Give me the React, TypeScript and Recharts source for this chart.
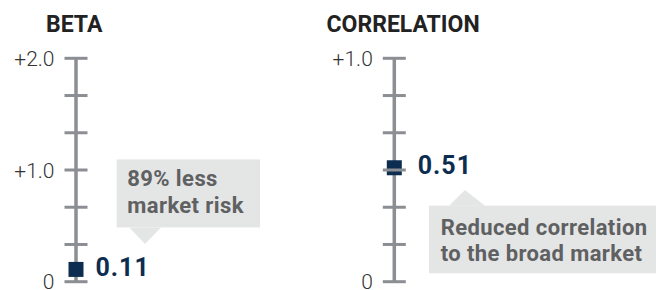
import React from 'react';
import { ScatterChart, Scatter, XAxis, YAxis } from 'recharts';

const betaTicks = [0, 0.3333, 0.6667, 1, 1.3333, 1.6667, 2];
const betaTickLabels = ['0', '', '', '+1.0', '', '', '+2.0'];
const betaPoint = [{ x: 0, y: 0.11 }];
const betaNote = ['89% less', 'market risk'];

const corrTicks = [0, 0.1667, 0.3333, 0.5, 0.6667, 0.8333, 1];
const corrTickLabels = ['0', '', '', '', '', '', '+1.0'];
const corrPoint = [{ x: 0, y: 0.51 }];
const corrNote = ['Reduced correlation', 'to the broad market'];

const AXIS = '#8b8e92';
const NAVY = '#0c2d50';
const FONT = 'Roboto, "Liberation Sans", sans-serif';

// callout offsets, relative to the marker centre
const betaCallout = {
  box: [40.7, -110, 143.3, 68],
  tip: [53.3, 85, -42, 69, -25.4],
  textX: 51.3,
  textY: [-83.6, -56.4],
  labelDx: 19.5,
};
const corrCallout = {
  box: [34.7, 37.9, 240, 67.6],
  tip: [54.7, 90.7, 37.9, 70.7, 22.2],
  textX: 46.4,
  textY: [67.2, 92.9],
  labelDx: 23.4,
};

function AxisTick(props: any) {
  const { x, y, payload, ticks, labels } = props;
  const label = labels[ticks.indexOf(payload.value)];
  return (
    <g>
      <line x1={x - 11.5} x2={x + 11.5} y1={y} y2={y} stroke={AXIS} strokeWidth={3} />
      {label ? (
        <text
          x={x - 21.5}
          y={y}
          dy="0.36em"
          textAnchor="end"
          fill="#333"
          fontFamily={FONT}
          fontWeight={300}
          fontSize={21}
        >
          {label}
        </text>
      ) : null}
    </g>
  );
}

function Marker(props: any) {
  const { cx, cy, payload, note, c } = props;
  const [bx, by, bw, bh] = c.box;
  const [t1, t2, ty, ax, ay] = c.tip;
  return (
    <g>
      <rect x={cx + bx} y={cy + by} width={bw} height={bh} fill="#e4e5e5" />
      <polygon
        points={`${cx + t1},${cy + ty} ${cx + t2},${cy + ty} ${cx + ax},${cy + ay}`}
        fill="#e4e5e5"
      />
      {note.map((line: string, i: number) => (
        <text
          key={line}
          x={cx + c.textX}
          y={cy + c.textY[i]}
          fill="#5f6062"
          fontFamily={FONT}
          fontWeight={700}
          fontSize={22}
          letterSpacing={0.4}
        >
          {line}
        </text>
      ))}
      <rect x={cx - 7.5} y={cy - 7.5} width={15} height={15} fill={NAVY} />
      <text
        x={cx + c.labelDx}
        y={cy + 6.5}
        fill={NAVY}
        fontFamily={FONT}
        fontWeight={700}
        fontSize={25}
        letterSpacing={1}
      >
        {payload.y.toFixed(2)}
      </text>
    </g>
  );
}

function Gauge(props: any) {
  const { title, titleX, left, axisW, max, ticks, labels, data, note, c } = props;
  return (
    <div style={{ position: 'absolute', left, top: 0, width: 328, height: 290 }}>
      <div
        style={{
          position: 'absolute',
          left: titleX,
          top: 13,
          fontFamily: FONT,
          fontWeight: 700,
          fontSize: 23,
          lineHeight: '23px',
          color: '#222',
          whiteSpace: 'nowrap',
        }}
      >
        {title}
      </div>
      <ScatterChart width={328} height={290} margin={{ top: 58.3, right: 0, bottom: 8.3, left: 0 }}>
        <XAxis type="number" dataKey="x" domain={[0, 1]} hide />
        <YAxis
          type="number"
          dataKey="y"
          domain={[0, max]}
          ticks={ticks}
          interval={0}
          width={axisW}
          tickLine={false}
          tickSize={0}
          tickMargin={0}
          axisLine={{ stroke: AXIS, strokeWidth: 3.5 }}
          tick={(p: any) => <AxisTick {...p} ticks={ticks} labels={labels} />}
        />
        <Scatter
          data={data}
          isAnimationActive={false}
          shape={(p: any) => <Marker {...p} note={note} c={c} />}
        />
      </ScatterChart>
    </div>
  );
}

export default function App() {
  return (
    <div style={{ position: 'absolute', left: 0, top: 0, width: 656, height: 290, background: '#fff' }}>
      <Gauge
        title="BETA"
        titleX={46}
        left={0}
        axisW={76}
        max={2}
        ticks={betaTicks}
        labels={betaTickLabels}
        data={betaPoint}
        note={betaNote}
        c={betaCallout}
      />
      <Gauge
        title="CORRELATION"
        titleX={-1.5}
        left={328}
        axisW={66.3}
        max={1}
        ticks={corrTicks}
        labels={corrTickLabels}
        data={corrPoint}
        note={corrNote}
        c={corrCallout}
      />
    </div>
  );
}
